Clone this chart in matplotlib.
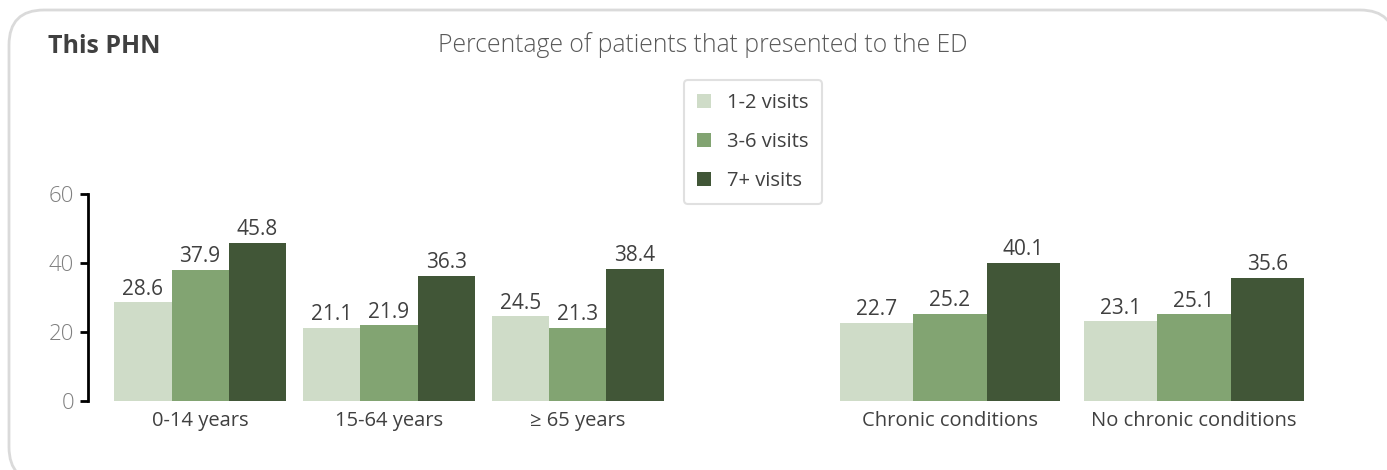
import matplotlib.pyplot as plt
from matplotlib.patches import FancyBboxPatch
import numpy as np

plt.rcParams['font.family'] = ['Open Sans', 'DejaVu Sans']

age_groups = ['0-14 years', '15-64 years', '≥ 65 years']
cond_groups = ['Chronic conditions', 'No chronic conditions']
series = ['1-2 visits', '3-6 visits', '7+ visits']
age_vals = [[28.6, 21.1, 24.5], [37.9, 21.9, 21.3], [45.8, 36.3, 38.4]]
cond_vals = [[22.7, 23.1], [25.2, 25.1], [40.1, 35.6]]
colors = ['#cfdcc8', '#82a472', '#415637']

fig = plt.figure(figsize=(13.87, 4.70), dpi=100)

# rounded outer frame (runs off the right and bottom edges), in pixel coordinates
bg = fig.add_axes([0, 0, 1, 1], zorder=-1)
bg.set_xlim(0, 1387)
bg.set_ylim(0, 470)
bg.axis('off')
bg.add_patch(FancyBboxPatch((9, -12), 1386, 472, boxstyle='round,pad=0,rounding_size=35',
                            facecolor='white', edgecolor='#dadada', linewidth=2,
                            clip_on=False))

bottom = (470 - 401) / 470
height = 207 / 470
ax1 = fig.add_axes([88 / 1387, bottom, 602 / 1387, height])
ax2 = fig.add_axes([828 / 1387, bottom, 488 / 1387, height])


def draw(ax, cats, vals, w):
    x = np.arange(len(cats))
    handles = []
    for i, (v, c) in enumerate(zip(vals, colors)):
        b = ax.bar(x + (i - 1) * w, v, w, color=c, label=series[i])
        handles.append(b)
        for xi, vi in zip(x + (i - 1) * w, v):
            ax.text(xi, vi + 0.8, f'{vi:.1f}', ha='center', va='bottom',
                    fontsize=15, color='#404040', clip_on=False)
    ax.set_xticks(x)
    ax.set_xticklabels(cats, fontsize=14.5, color='#404040')
    ax.tick_params(axis='x', length=0, pad=7)
    ax.set_ylim(0, 60)
    for s in ['top', 'right', 'bottom']:
        ax.spines[s].set_visible(False)
    ax.patch.set_visible(False)
    return handles


handles = draw(ax1, age_groups, age_vals, 0.302)
ax1.set_xlim(-0.593, 2.593)
ax1.spines['left'].set_linewidth(2)
ax1.spines['left'].set_color('black')
ax1.set_yticks([0, 20, 40, 60])
ax1.tick_params(axis='y', length=6, width=2, color='black', labelsize=16,
                labelcolor='#7f7f7f', pad=4)
for t in ax1.get_yticklabels():
    t.set_fontweight('light')

draw(ax2, cond_groups, cond_vals, 0.3)
ax2.set_xlim(-0.5, 1.5)
ax2.spines['left'].set_visible(False)
ax2.set_yticks([])

fig.text(48 / 1387, 1 - 53 / 470, 'This PHN', fontsize=18, fontweight='bold',
         color='#404040', va='baseline', ha='left')
fig.text(703 / 1387, 1 - 52 / 470, 'Percentage of patients that presented to the ED',
         fontsize=17.8, fontweight='light', color='#595959', va='baseline', ha='center')

leg = fig.legend(handles=handles, labels=series, loc='upper center',
                 bbox_to_anchor=(753 / 1387, 1 - 80 / 470), fontsize=14.5,
                 handlelength=0.7, handleheight=0.7, handletextpad=0.8,
                 labelspacing=0.95, borderpad=0.65, borderaxespad=0, frameon=True,
                 fancybox=True, labelcolor='#404040')
leg.get_frame().set_edgecolor('#d9d9d9')
leg.get_frame().set_linewidth(1.5)

fig.savefig('out.png', dpi=100)
